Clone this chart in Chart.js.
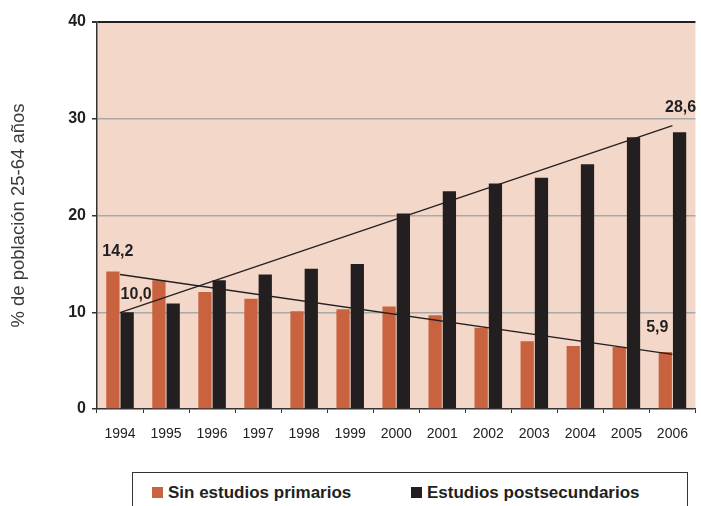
<!DOCTYPE html>
<html>
<head>
<meta charset="utf-8">
<script src="https://cdn.jsdelivr.net/npm/chart.js@4.4.1/dist/chart.umd.min.js"></script>
<style>
  body { margin: 0; background: #fff; font-family: "Liberation Sans", Arial, sans-serif; }
  #wrap { position: relative; width: 701px; height: 506px; overflow: hidden; }
  #legend { position: absolute; left: 132px; top: 472px; width: 556px; height: 60px; border: 1px solid #333; box-sizing: border-box; }
  .item { position: absolute; top: 11px; font-weight: bold; font-size: 17px; color: #231F20; line-height: 18px; }
  .sw { display: inline-block; width: 11px; height: 11px; margin-right: 5px; vertical-align: 0px; }
</style>
</head>
<body>
<div id="wrap">
  <canvas id="graphCanvas" width="701" height="460"></canvas>
  <div id="legend">
    <div class="item" style="left:19px"><span class="sw" style="background:#C9623F"></span>Sin estudios primarios</div>
    <div class="item" style="left:278px"><span class="sw" style="background:#231F20"></span>Estudios postsecundarios</div>
  </div>
</div>
<script>
const years = ['1994', '1995', '1996', '1997', '1998', '1999', '2000', '2001', '2002', '2003', '2004', '2005', '2006'];
const sinPrimarios = [14.2, 13.3, 12.1, 11.4, 10.1, 10.3, 10.6, 9.7, 8.4, 7.0, 6.5, 6.4, 5.9];
const postsecundarios = [10.0, 10.9, 13.3, 13.9, 14.5, 15.0, 20.2, 22.5, 23.3, 23.9, 25.3, 28.1, 28.6];
const trendPost = [9.95, null, null, null, null, null, null, null, null, null, null, null, 29.3];
const trendSin = [13.9, null, null, null, null, null, null, null, null, null, null, null, 5.65];
const yTicks = [0, 10, 20, 30, 40];

const orange = '#C9623F';
const black = '#231F20';
const peach = '#F3D8CA';
const font = '"Liberation Sans", Arial, sans-serif';

// labels written on the bars: dataset, index, pixel offset of text centre from bar top
const barLabels = [
    { ds: 0, i: 0, dx: 5, dy: -20 },
    { ds: 1, i: 0, dx: 9, dy: -18 },
    { ds: 1, i: 12, dx: 1, dy: -25 },
    { ds: 0, i: 12, dx: -8, dy: -24 }
];

const areaBg = {
    id: 'areaBg',
    beforeDraw(c) {
        const a = c.chartArea;
        c.ctx.save();
        c.ctx.fillStyle = peach;
        c.ctx.fillRect(a.left, a.top, a.right - a.left, a.bottom - a.top);
        c.ctx.restore();
    }
};

const valueText = {
    id: 'valueText',
    afterDatasetsDraw(c) {
        const ctx = c.ctx;
        ctx.save();
        ctx.font = 'bold 16px ' + font;
        ctx.fillStyle = black;
        ctx.textAlign = 'center';
        ctx.textBaseline = 'middle';
        barLabels.forEach(l => {
            const bar = c.getDatasetMeta(l.ds).data[l.i];
            const v = c.data.datasets[l.ds].data[l.i];
            ctx.fillText(v.toFixed(1).replace('.', ','), bar.x + l.dx, bar.y + l.dy);
        });
        ctx.restore();
    }
};

const chart = new Chart(document.getElementById('graphCanvas').getContext('2d'), {
    type: 'bar',
    data: {
        labels: years,
        datasets: [
            { label: 'Sin estudios primarios', data: sinPrimarios, backgroundColor: orange, categoryPercentage: 0.62, barPercentage: 0.93, order: 2 },
            { label: 'Estudios postsecundarios', data: postsecundarios, backgroundColor: black, categoryPercentage: 0.62, barPercentage: 0.93, order: 2 },
            { type: 'line', data: trendPost, spanGaps: true, borderColor: black, borderWidth: 1.3, pointRadius: 0, fill: false, order: 1 },
            { type: 'line', data: trendSin, spanGaps: true, borderColor: black, borderWidth: 1.3, pointRadius: 0, fill: false, order: 1 }
        ]
    },
    options: {
        responsive: false,
        animation: false,
        layout: { padding: { top: 22, left: 0, right: 0, bottom: 1 } },
        plugins: {
            legend: { display: false },
            tooltip: { enabled: false }
        },
        scales: {
            x: {
                grid: { drawOnChartArea: false, drawTicks: true, tickLength: 4, tickColor: '#333', offset: true },
                border: { color: '#333', width: 1.5 },
                ticks: { color: '#222', padding: 13, font: { size: 14, family: font } },
                afterFit: s => { s.height = 50; }
            },
            y: {
                min: 0, max: 40,
                afterBuildTicks: s => { s.ticks = yTicks.map(v => ({ value: v })); },
                grid: {
                    color: ctx => ctx.tick.value === 40 ? black : (ctx.tick.value === 0 ? 'rgba(0,0,0,0)' : '#A9A9A9'),
                    lineWidth: ctx => ctx.tick.value === 40 ? 2 : 1.5,
                    tickLength: 5,
                    tickColor: '#333'
                },
                border: { color: '#333', width: 1.5 },
                ticks: { color: black, padding: 6, font: { size: 16, weight: 'bold', family: font } },
                title: { display: true, text: '% de población 25-64 años', color: '#3a3a3a', padding: { top: 8, bottom: 0 }, font: { size: 18.5, family: font } },
                afterFit: s => { s.width = 97; }
            }
        }
    },
    plugins: [areaBg, valueText]
});
</script>
</body>
</html>
